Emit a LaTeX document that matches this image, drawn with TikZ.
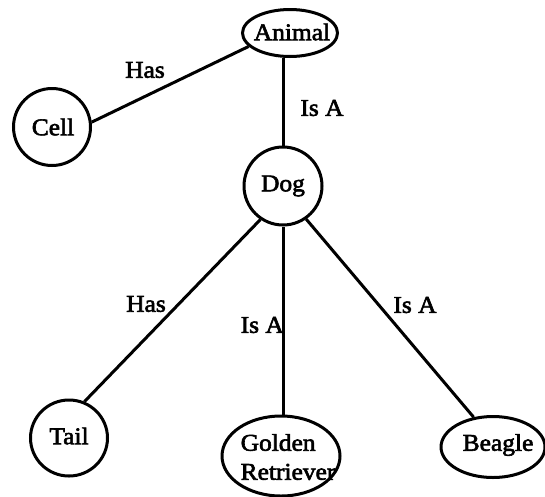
\documentclass[tikz,border=0pt]{standalone}
\usepackage{fontspec}
\setmainfont{Liberation Serif}[FakeBold=2.5,FakeStretch=1.06]
\usetikzlibrary{shapes.geometric}
\begin{document}
\begin{tikzpicture}[x=1pt,y=-1pt,
  every node/.style={font=\fontsize{24}{29}\selectfont},
  shp/.style={draw, line width=3pt, inner sep=0pt},
  circ/.style={shp, circle},
  ell/.style={shp, ellipse},
  txt/.style={inner sep=0pt, align=left},
  edge/.style={line width=3pt}]
\useasboundingbox (0,0) rectangle (545,496);
% shapes
\node[ell, minimum width=95pt, minimum height=47pt] (animal) at (290,33) {};
\node[txt] (animalt) at (292,32) {Animal};
\node[circ, minimum size=77pt] (cell) at (52,127) {};
\node[txt] (cellt) at (53,127) {Cell};
\node[circ, minimum size=78pt] (dog) at (283,186) {};
\node[txt] (dogt) at (283,186) {Dog};
\node[ell, minimum width=77pt, minimum height=76pt] (tail) at (69,438) {};
\node[txt] (tailt) at (69,436) {Tail};
\node[ell, minimum width=118pt, minimum height=80pt] (golden) at (281,456) {};
\node[txt] (goldent) at (288,457) {Golden\\Retriever};
\node[ell, minimum width=104pt, minimum height=61pt] (beagle) at (493,447) {};
\node[txt] (beaglet) at (498,445) {Beagle};
% connectors
\draw[edge] (cell.7) -- (animal.198);
\draw[edge] (animal.south -| dog.north) -- (dog.north);
\draw[edge] (dog.236) -- (tail.67);
\draw[edge] (dog.south) -- (dog.south |- golden.north);
\draw[edge] (dog.305) -- (beagle.123);
% labels
\node[txt] (l1) at (145,70) {Has};
\node[txt] (l2) at (322,108) {Is A};
\node[txt, anchor=east] (l3) at (166,304) {Has};
\node[txt, anchor=east] (l4) at (284,325) {Is A};
\node[txt] (l5) at (415,305) {Is A};
\end{tikzpicture}
\end{document}
